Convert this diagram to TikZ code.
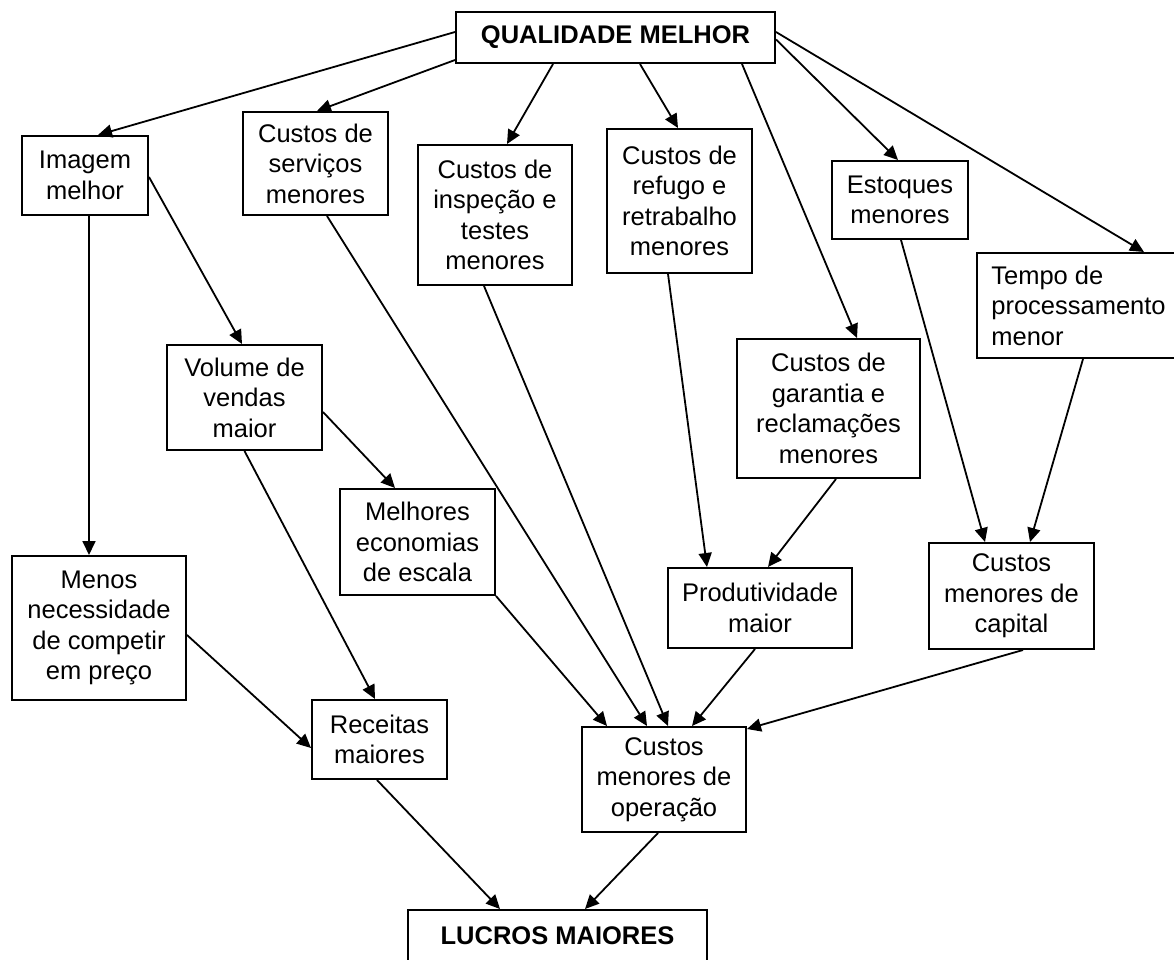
\documentclass[tikz,border=0pt]{standalone}
\usepackage{fontspec}
\setmainfont{Liberation Sans}
\usetikzlibrary{arrows.meta}
\begin{document}
\begin{tikzpicture}[x=1pt,y=-1pt,
  box/.style={draw, line width=2pt, rectangle, inner sep=0pt, align=center,
    font=\fontsize{25.5}{30.5}\selectfont},
  arr/.style={line width=1.8pt, -{Triangle[length=14pt,width=13pt]}}]
\fill[white] (0,0) rectangle (1174,960);
\useasboundingbox (0,0) rectangle (1174,960);

\node[box, minimum width=319pt, minimum height=51pt, font=\fontsize{25.5}{30.5}\selectfont\bfseries] (q) at (615.5,37.5) {QUALIDADE MELHOR};
\node[box, minimum width=126pt, minimum height=79pt] (img) at (85,175.5) {Imagem\\melhor};
\node[box, minimum width=145pt, minimum height=103pt] (serv) at (315.5,163.5) {Custos de\\serviços\\menores};
\node[box, minimum width=154pt, minimum height=140pt] (insp) at (495,215) {Custos de\\inspeção e\\testes\\menores};
\node[box, minimum width=145pt, minimum height=144pt] (ref) at (679.5,201) {Custos de\\refugo e\\retrabalho\\menores};
\node[box, minimum width=136pt, minimum height=78pt] (est) at (900,200) {Estoques\\menores};
\node[box, minimum width=203pt, minimum height=105pt, align=left] (tempo) at (1078.5,305.5) {Tempo de\\processamento\\menor};
\node[box, minimum width=155pt, minimum height=105pt] (vol) at (244.5,397.5) {Volume de\\vendas\\maior};
\node[box, minimum width=155pt, minimum height=106pt] (mel) at (417.5,542) {Melhores\\economias\\de escala};
\node[box, minimum width=183pt, minimum height=139pt] (gar) at (828.5,408.5) {Custos de\\garantia e\\reclamações\\menores};
\node[box, minimum width=184pt, minimum height=80pt] (prod) at (760,608) {Produtividade\\maior};
\node[box, minimum width=165pt, minimum height=106pt] (cap) at (1011.5,596) {Custos\\menores de\\capital};
\node[box, minimum width=174pt, minimum height=144pt] (menos) at (99,628) {Menos\\necessidade\\de competir\\em preço};
\node[box, minimum width=135pt, minimum height=79pt] (rec) at (379.5,739.5) {Receitas\\maiores};
\node[box, minimum width=164pt, minimum height=105pt] (op) at (664,779.5) {Custos\\menores de\\operação};
\node[box, minimum width=299pt, minimum height=52pt, font=\fontsize{25.5}{30.5}\selectfont\bfseries] (luc) at (557.5,936) {LUCROS MAIORES};

\draw[arr] ([yshift=5.5pt]q.west) -- ([xshift=13pt]img.north);
\draw[arr] ([yshift=4pt]q.south west) -- ([xshift=1.5pt]serv.north);
\draw[arr] ([xshift=-62.5pt]q.south) -- ([xshift=12pt]insp.north);
\draw[arr] ([xshift=24.5pt]q.south) -- ([xshift=-1.5pt]ref.north);
\draw[arr] ([xshift=126.5pt]q.south) -- ([xshift=28.5pt]gar.north);
\draw[arr] ([yshift=-2pt]q.east) -- ([xshift=-2pt]est.north);
\draw[arr] ([yshift=5.5pt]q.east) -- ([xshift=168pt]tempo.north west);
\draw[arr] ([xshift=4pt]img.south) -- ([xshift=-10pt]menos.north);
\draw[arr] ([yshift=-1.5pt]img.east) -- ([xshift=-2.5pt]vol.north);
\draw[arr] ([yshift=-14.5pt]vol.east) -- ([xshift=-22.5pt]mel.north);
\draw[arr] (vol.south) -- ([xshift=-4.5pt]rec.north);
\draw[arr] ([xshift=11.5pt]serv.south) -- ([xshift=-17pt]op.north);
\draw[arr] ([xshift=-11pt]insp.south) -- ([xshift=4pt]op.north);
\draw[arr] (mel.south east) -- ([xshift=-57pt]op.north);
\draw[arr] ([xshift=-11.5pt]ref.south) -- ([xshift=-53pt]prod.north);
\draw[arr] ([xshift=7.5pt]gar.south) -- ([xshift=8pt]prod.north);
\draw[arr] ([xshift=-5pt]prod.south) -- ([xshift=28pt]op.north);
\draw[arr] ([xshift=1pt]est.south) -- ([xshift=-26.5pt]cap.north);
\draw[arr] ([xshift=4.5pt]tempo.south) -- ([xshift=18.5pt]cap.north);
\draw[arr] ([xshift=11.5pt]cap.south) -- ([yshift=-3pt]op.north east);
\draw[arr] ([yshift=-7pt]menos.east) -- ([yshift=-8.5pt]rec.west);
\draw[arr] ([xshift=-2.5pt]rec.south) -- ([xshift=-57.5pt]luc.north);
\draw[arr] ([xshift=-6pt]op.south) -- ([xshift=27.5pt]luc.north);
\end{tikzpicture}
\end{document}
